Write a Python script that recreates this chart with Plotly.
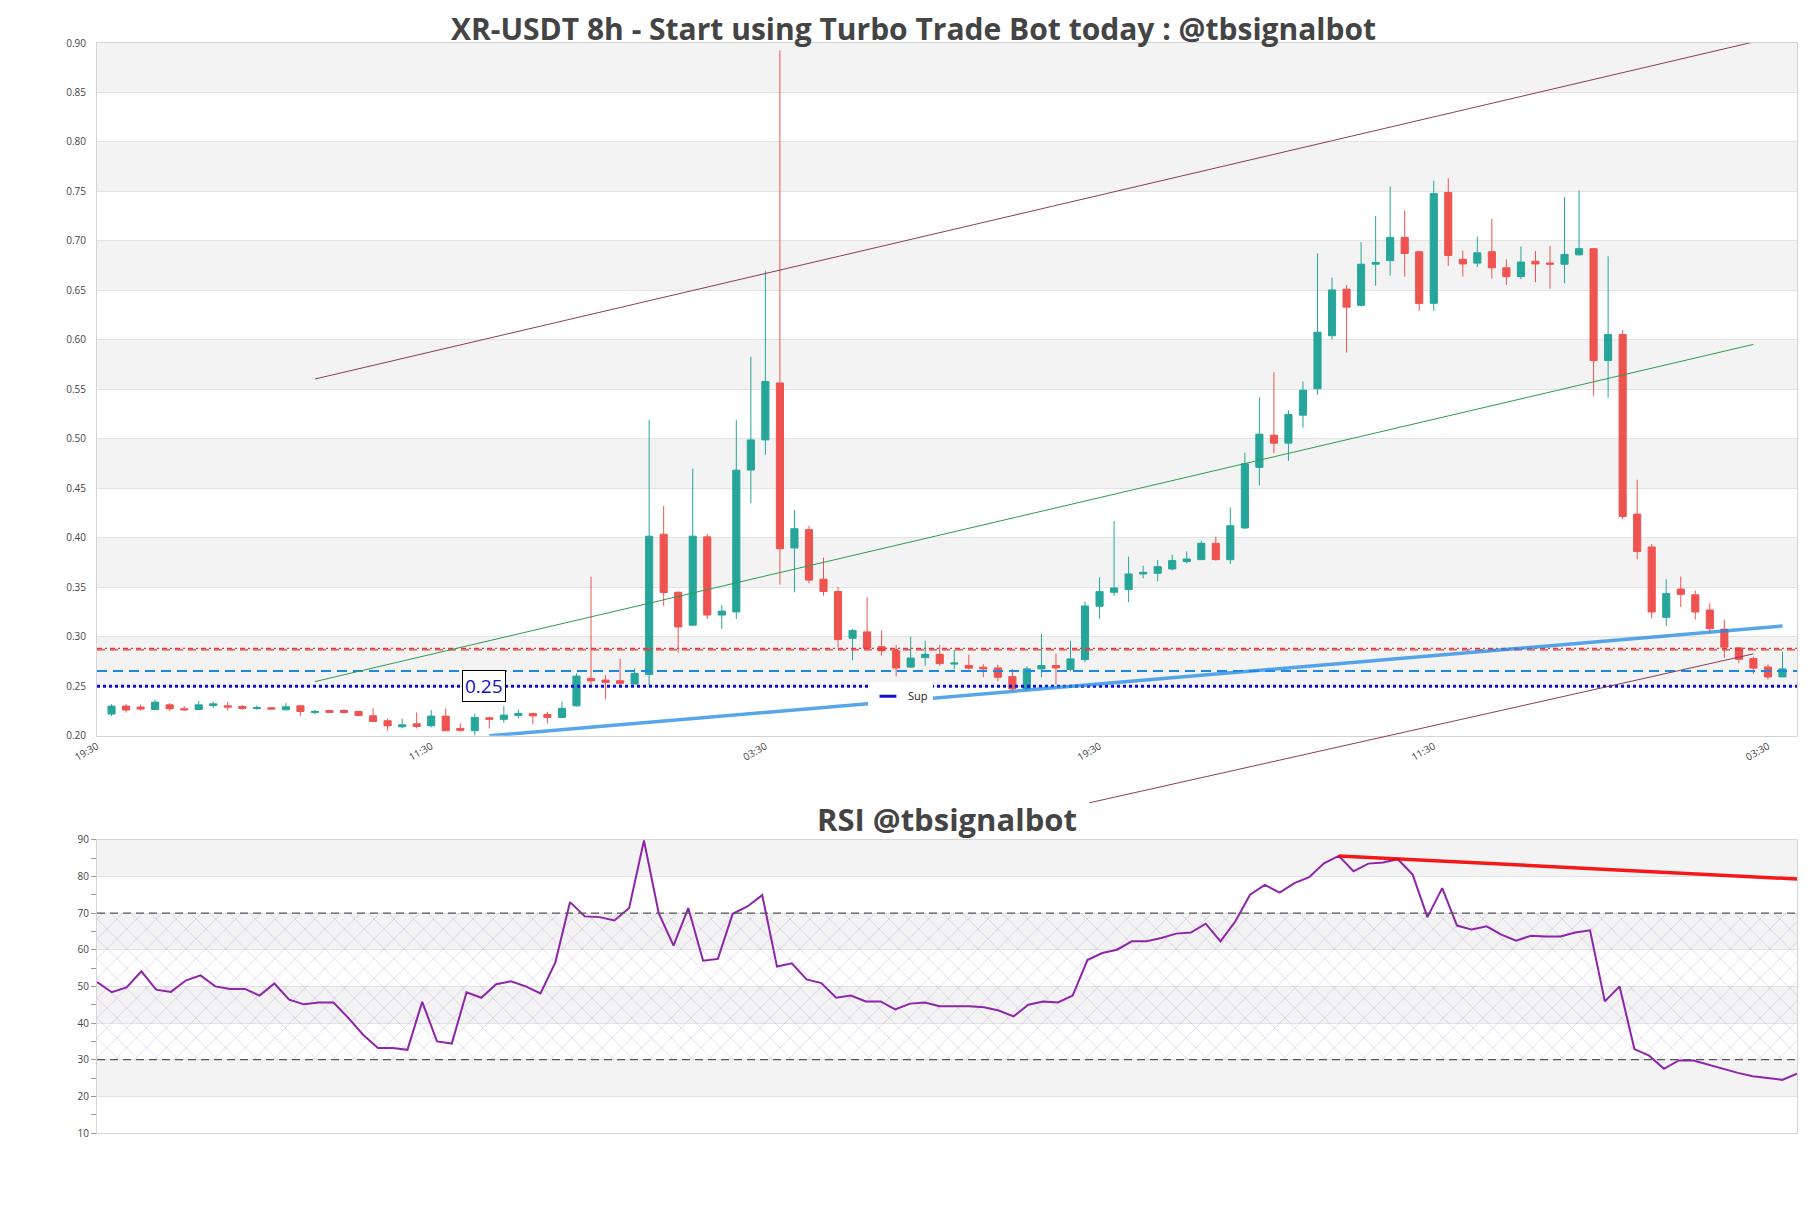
import pandas as pd
import plotly.graph_objects as go

# ---------------- data ----------------
start_time = pd.Timestamp("2024-03-01 19:30")
step = pd.Timedelta(hours=8)
n_candles = 116

opens = [0.222, 0.230, 0.229, 0.2266, 0.2313, 0.2273, 0.2266, 0.2306, 0.2303, 0.2296,
         0.2276, 0.2283, 0.2263, 0.2303, 0.2236, 0.2256, 0.2256, 0.2246, 0.2202, 0.2152,
         0.2091, 0.2121, 0.2101, 0.2199, 0.2075, 0.2051, 0.2182, 0.2166, 0.2206, 0.2226,
         0.2216, 0.2186, 0.2303, 0.258, 0.2563, 0.2556, 0.2523, 0.262, 0.4037, 0.345,
         0.3118, 0.401, 0.322, 0.3252, 0.4685, 0.499, 0.5565, 0.3898, 0.4083, 0.3583,
         0.3458, 0.2986, 0.305, 0.290, 0.286, 0.2694, 0.279, 0.2823, 0.2725, 0.271,
         0.2693, 0.2686, 0.2598, 0.2474, 0.2676, 0.271, 0.2669, 0.277, 0.3309, 0.345,
         0.3477, 0.3635, 0.3642, 0.3686, 0.376, 0.378, 0.3945, 0.378, 0.410, 0.4712,
         0.5037, 0.4957, 0.524, 0.5507, 0.6042, 0.6512, 0.6349, 0.6765, 0.6801, 0.7036,
         0.6891, 0.637, 0.749, 0.6814, 0.6776, 0.6891, 0.6729, 0.664, 0.6795, 0.6777,
         0.6765, 0.686, 0.6922, 0.5791, 0.6054, 0.424, 0.3908, 0.3197, 0.3483, 0.3425,
         0.3271, 0.3078, 0.2888, 0.278, 0.2695, 0.2595]
highs = [0.232, 0.232, 0.2315, 0.2365, 0.233, 0.230, 0.2353, 0.2346, 0.2343, 0.231,
         0.2306, 0.229, 0.2333, 0.2303, 0.2263, 0.2263, 0.227, 0.2253, 0.2279, 0.2175,
         0.2175, 0.2236, 0.226, 0.2277, 0.2125, 0.2226, 0.2192, 0.230, 0.2266, 0.2232,
         0.2243, 0.2344, 0.263, 0.3606, 0.2613, 0.278, 0.268, 0.519, 0.4323, 0.346,
         0.470, 0.404, 0.332, 0.519, 0.583, 0.670, 0.8926, 0.428, 0.412, 0.380,
         0.3505, 0.308, 0.340, 0.3065, 0.2916, 0.300, 0.296, 0.2916, 0.287, 0.282,
         0.2726, 0.272, 0.2676, 0.270, 0.303, 0.283, 0.296, 0.3356, 0.360, 0.417,
         0.381, 0.3719, 0.3777, 0.383, 0.3864, 0.3972, 0.4012, 0.4307, 0.486, 0.542,
         0.5673, 0.529, 0.558, 0.6873, 0.663, 0.6555, 0.6989, 0.7253, 0.755, 0.7307,
         0.690, 0.761, 0.7633, 0.6903, 0.7046, 0.7227, 0.6814, 0.6942, 0.6899, 0.6949,
         0.7443, 0.7509, 0.6925, 0.6845, 0.610, 0.4587, 0.3938, 0.3583, 0.361, 0.3468,
         0.334, 0.3174, 0.2896, 0.280, 0.2723, 0.285]
lows = [0.220, 0.2232, 0.2255, 0.226, 0.225, 0.225, 0.2266, 0.228, 0.2256, 0.2263,
        0.2263, 0.2263, 0.2256, 0.2203, 0.2216, 0.223, 0.2226, 0.2196, 0.2145, 0.2051,
        0.2075, 0.2075, 0.2085, 0.2051, 0.2040, 0.2004, 0.2075, 0.2132, 0.2176, 0.2118,
        0.2125, 0.2176, 0.2293, 0.2512, 0.2368, 0.2512, 0.2523, 0.2512, 0.3313, 0.284,
        0.311, 0.318, 0.308, 0.318, 0.435, 0.484, 0.3527, 0.345, 0.354, 0.3416,
        0.2893, 0.2763, 0.287, 0.281, 0.260, 0.2685, 0.2708, 0.2708, 0.267, 0.267,
        0.2592, 0.2548, 0.2452, 0.2457, 0.2592, 0.2518, 0.2652, 0.2743, 0.3184, 0.3413,
        0.3349, 0.3591, 0.3561, 0.367, 0.3743, 0.378, 0.377, 0.3736, 0.409, 0.453,
        0.4856, 0.4777, 0.5113, 0.5445, 0.6006, 0.5872, 0.6338, 0.6548, 0.6649, 0.6638,
        0.6295, 0.6293, 0.6749, 0.664, 0.6737, 0.6621, 0.6555, 0.6613, 0.6582, 0.6517,
        0.6571, 0.6853, 0.5436, 0.5413, 0.4189, 0.3784, 0.3186, 0.3109, 0.3302, 0.3174,
        0.3043, 0.2788, 0.2734, 0.2626, 0.2568, 0.2595]
closes = [0.230, 0.226, 0.227, 0.234, 0.2273, 0.2263, 0.2313, 0.2323, 0.229, 0.2276,
          0.2286, 0.227, 0.2293, 0.2246, 0.2246, 0.2236, 0.2236, 0.2206, 0.2145, 0.2101,
          0.2111, 0.2094, 0.2199, 0.2051, 0.2055, 0.2186, 0.2166, 0.2209, 0.2226, 0.2202,
          0.2186, 0.2277, 0.2603, 0.2556, 0.254, 0.253, 0.263, 0.4017, 0.3448, 0.310,
          0.4017, 0.322, 0.326, 0.4684, 0.499, 0.558, 0.389, 0.4092, 0.3573, 0.3458,
          0.2972, 0.3065, 0.2884, 0.286, 0.2685, 0.2786, 0.2823, 0.273, 0.2735, 0.2683,
          0.2676, 0.2592, 0.2474, 0.2676, 0.271, 0.2686, 0.2777, 0.3312, 0.3457, 0.3494,
          0.3635, 0.3652, 0.3709, 0.377, 0.3787, 0.3945, 0.378, 0.4123, 0.4748, 0.5048,
          0.4957, 0.5247, 0.5492, 0.6078, 0.6505, 0.6331, 0.6765, 0.6783, 0.7036, 0.6873,
          0.6367, 0.7478, 0.6853, 0.6768, 0.688, 0.6729, 0.664, 0.6787, 0.6768, 0.6765,
          0.6864, 0.6922, 0.5791, 0.6054, 0.4216, 0.3862, 0.3251, 0.3437, 0.3429, 0.3251,
          0.3082, 0.2896, 0.2773, 0.2684, 0.2595, 0.2676]
rsi_values = [51.2, 48.4, 49.7, 54.1, 49.1, 48.5, 51.6, 53.0, 50.0, 49.3,
              49.3, 47.5, 50.8, 46.4, 45.1, 45.6, 45.6, 41.4, 36.8, 33.2,
              33.2, 32.7, 45.8, 35.0, 34.4, 48.4, 46.9, 50.6, 51.4, 50.0,
              48.1, 56.5, 73.0, 69.1, 68.9, 68.0, 71.4, 89.8, 70.0, 61.1,
              71.4, 57.0, 57.5, 69.8, 71.8, 74.9, 55.4, 56.3, 51.9, 50.9,
              46.9, 47.5, 45.9, 45.9, 43.7, 45.3, 45.6, 44.6, 44.6, 44.6,
              44.3, 43.4, 41.8, 45.0, 45.9, 45.6, 47.5, 57.2, 59.1, 60.0,
              62.3, 62.3, 63.2, 64.4, 64.7, 67.1, 62.3, 67.7, 75.0, 77.7,
              75.6, 78.2, 79.8, 83.6, 85.6, 81.4, 83.5, 83.8, 84.7, 80.5,
              68.9, 76.8, 66.6, 65.5, 66.4, 64.1, 62.5, 63.8, 63.6, 63.6,
              64.7, 65.3, 45.9, 50.0, 32.9, 31.1, 27.5, 29.8, 29.8, 28.6,
              27.5, 26.4, 25.5, 25.0, 24.5, 26.2]

tick_labels = ["19:30", "11:30", "03:30", "19:30", "11:30", "03:30"]

# trend lines: (candle index, price)
channel_upper_k = [15.0, 114.0]
channel_upper_p = [0.5605, 0.901]
channel_mid_k = [15.0, 114.0]
channel_mid_p = [0.2548, 0.5955]
channel_lower_k = [68.3, 114.0]
channel_lower_p = [0.1323, 0.2828]
support_k = [27.0, 116.0]
support_p = [0.200, 0.311]
rsi_trend_k = [85.0, 116.0]
rsi_trend_v = [85.6, 79.3]

resist_levels = [0.2869, 0.2884]
mid_level = 0.2655
sup_level = 0.25
label_k = 26.6

# ---------------- helpers ----------------
def kt(k):
    return start_time + step * k

times = [kt(k) for k in range(1, n_candles + 1)]
x_lo, x_hi = kt(0), kt(117)

main_dom = [0.3644, 1.0]
rsi_dom = [0.0, 0.269]
ext_dom = [0.29, 1.0]
y_lo, y_hi = 0.20, 0.90
ext_lo = y_lo - (main_dom[0] - ext_dom[0]) / (main_dom[1] - main_dom[0]) * (y_hi - y_lo)

SUP_COLOR = "#1010c8"

fig = go.Figure()

fig.add_trace(go.Candlestick(
    x=times, open=opens, high=highs, low=lows, close=closes,
    increasing=dict(line=dict(color="#26a69a", width=1), fillcolor="#26a69a"),
    decreasing=dict(line=dict(color="#ef5350", width=1), fillcolor="#ef5350"),
    showlegend=False, xaxis="x", yaxis="y"))

# horizontal levels
for i, lv in enumerate(resist_levels):
    fig.add_trace(go.Scatter(x=[x_lo, x_hi], y=[lv, lv], mode="lines",
                             line=dict(color="#e53935", width=1.3,
                                       dash="8px,5px" if i == 0 else "5px,3px,2px,3px"),
                             showlegend=False, hoverinfo="skip", xaxis="x", yaxis="y"))
fig.add_trace(go.Scatter(x=[x_lo, x_hi], y=[mid_level, mid_level], mode="lines",
                         line=dict(color="#1e88e5", width=2, dash="10px,6px"),
                         showlegend=False, hoverinfo="skip", xaxis="x", yaxis="y"))
fig.add_trace(go.Scatter(x=[x_lo, x_hi], y=[sup_level, sup_level], mode="lines",
                         line=dict(color=SUP_COLOR, width=3, dash="dot"),
                         name="Sup", showlegend=False, hoverinfo="skip", xaxis="x", yaxis="y"))
# legend entry for the support level
fig.add_trace(go.Scatter(x=[None], y=[None], mode="markers", name="Sup",
                         marker=dict(symbol="line-ew", size=12,
                                     line=dict(color=SUP_COLOR, width=3)),
                         showlegend=True, hoverinfo="skip", xaxis="x", yaxis="y"))

# support trend line
fig.add_trace(go.Scatter(x=[kt(k) for k in support_k], y=support_p, mode="lines",
                         line=dict(color="rgba(30,136,229,0.75)", width=3.5),
                         showlegend=False, hoverinfo="skip", xaxis="x", yaxis="y"))

# channel lines on an extended overlay axis
fig.add_trace(go.Scatter(x=[kt(k) for k in channel_upper_k], y=channel_upper_p, mode="lines",
                         line=dict(color="#8e3b55", width=1), showlegend=False,
                         hoverinfo="skip", xaxis="x3", yaxis="y3"))
fig.add_trace(go.Scatter(x=[kt(k) for k in channel_mid_k], y=channel_mid_p, mode="lines",
                         line=dict(color="#2e9b4e", width=1), showlegend=False,
                         hoverinfo="skip", xaxis="x3", yaxis="y3"))
fig.add_trace(go.Scatter(x=[kt(k) for k in channel_lower_k], y=channel_lower_p, mode="lines",
                         line=dict(color="#8e3b55", width=1), showlegend=False,
                         hoverinfo="skip", xaxis="x3", yaxis="y3"))

# RSI hatch zone
fig.add_trace(go.Scatter(x=[times[0], times[-1]], y=[30, 30], mode="lines",
                         line=dict(width=0), showlegend=False, hoverinfo="skip",
                         xaxis="x2", yaxis="y2"))
fig.add_trace(go.Scatter(x=[times[0], times[-1]], y=[70, 70], mode="lines",
                         line=dict(width=0), fill="tonexty", fillcolor="rgba(0,0,0,0)",
                         fillpattern=dict(shape="x", fgcolor="rgba(165,130,200,0.5)",
                                          size=14, solidity=0.08, fillmode="replace"),
                         showlegend=False, hoverinfo="skip", xaxis="x2", yaxis="y2"))
fig.add_trace(go.Scatter(x=times, y=rsi_values, mode="lines",
                         line=dict(color="#8e24aa", width=2), showlegend=False,
                         hoverinfo="skip", xaxis="x2", yaxis="y2"))
fig.add_trace(go.Scatter(x=[kt(k) for k in rsi_trend_k], y=rsi_trend_v, mode="lines",
                         line=dict(color="rgba(244,0,0,0.9)", width=3.5), showlegend=False,
                         hoverinfo="skip", xaxis="x2", yaxis="y2"))

shapes = []
band_fill = "#f3f3f3"
for lo in [0.25, 0.35, 0.45, 0.55, 0.65, 0.75, 0.85]:
    shapes.append(dict(type="rect", xref="x domain", yref="y", x0=0, x1=1, y0=lo, y1=lo + 0.05,
                       fillcolor=band_fill, line=dict(width=0), layer="below"))
for lo in [20, 40, 60, 80]:
    shapes.append(dict(type="rect", xref="x2 domain", yref="y2", x0=0, x1=1, y0=lo, y1=lo + 10,
                       fillcolor=band_fill, line=dict(width=0), layer="below"))
for lv in [70, 30]:
    shapes.append(dict(type="line", xref="x2 domain", yref="y2", x0=0, x1=1, y0=lv, y1=lv,
                       line=dict(color="#555555", width=1.3, dash="8px,5px"), layer="above"))

axis_line = "#d4d4d4"
grid_col = "#e3e3e3"
fig.update_layout(
    width=1811, height=1208,
    margin=dict(l=89, r=22, t=35, b=83),
    paper_bgcolor="white", plot_bgcolor="rgba(0,0,0,0)",
    font=dict(family="Open Sans, sans-serif", size=10, color="#444"),
    title=dict(text="<b>XR-USDT 8h - Start using Turbo Trade Bot today : @tbsignalbot</b>",
               x=0.5, xanchor="center", y=1 - 21 / 1208, yanchor="middle",
               font=dict(size=30, color="#444")),
    shapes=shapes,
    showlegend=True,
    legend=dict(x=0.4535, y=0.4008, xanchor="left", yanchor="middle",
                bgcolor="white", font=dict(size=11, color="#222"), borderwidth=0),
    xaxis=dict(domain=[0, 1], anchor="y", type="date", range=[x_lo, x_hi],
               tickvals=[kt(23 * i) for i in range(len(tick_labels))], ticktext=tick_labels,
               tickangle=-30, showgrid=False, showline=True, linecolor=axis_line, mirror=True,
               rangeslider=dict(visible=False), ticks="", tickfont=dict(size=10)),
    yaxis=dict(domain=main_dom, anchor="x", range=[y_lo, y_hi], dtick=0.05, tickformat=".2f",
               showgrid=True, gridcolor=grid_col, showline=True, linecolor=axis_line,
               mirror=True, zeroline=False, ticks="outside", ticklen=8,
               tickcolor="rgba(0,0,0,0)", tickfont=dict(size=10)),
    xaxis3=dict(domain=[0, 1], anchor="y3", type="date", range=[x_lo, x_hi], visible=False),
    yaxis3=dict(domain=ext_dom, anchor="x3", range=[ext_lo, y_hi], visible=False),
    xaxis2=dict(domain=[0, 1], anchor="y2", type="date", showticklabels=False, showgrid=False,
                showline=True, linecolor=axis_line, mirror=True, ticks=""),
    yaxis2=dict(domain=rsi_dom, anchor="x2", range=[10, 90], dtick=10, showgrid=True,
                gridcolor=grid_col, showline=True, linecolor=axis_line, mirror=True,
                zeroline=False, ticks="outside", ticklen=5, tickcolor="#999",
                minor=dict(ticks="outside", ticklen=5, dtick=5, tickcolor="#999", showgrid=False),
                tickfont=dict(size=10)),
    annotations=[
        dict(text="<b>RSI @tbsignalbot</b>", xref="paper", yref="paper", x=0.5,
             y=0.288, xanchor="center", yanchor="middle", showarrow=False,
             font=dict(size=31, color="#444")),
        dict(text="0.25", xref="x", yref="y", x=kt(label_k), y=sup_level, showarrow=False,
             font=dict(size=19, color=SUP_COLOR), bgcolor="white", bordercolor="black",
             borderwidth=1, borderpad=2),
    ],
)

fig.write_html("out.html")
